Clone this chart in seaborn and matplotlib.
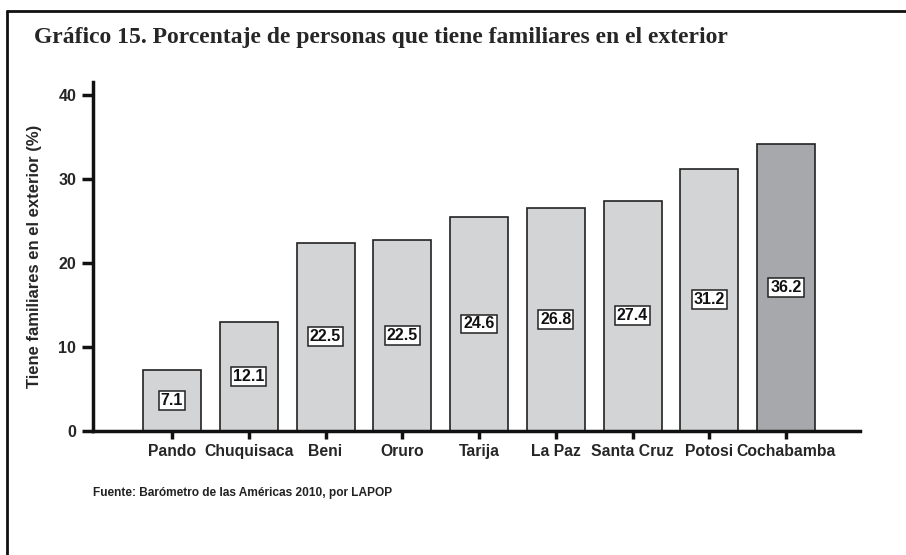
import pandas as pd
import seaborn as sns
import matplotlib.pyplot as plt
from matplotlib.lines import Line2D

# Data
departamentos = ["Pando", "Chuquisaca", "Beni", "Oruro", "Tarija",
                 "La Paz", "Santa Cruz", "Potosi", "Cochabamba"]
alturas = [7.2, 12.9, 22.4, 22.7, 25.4, 26.5, 27.4, 31.2, 34.1]
etiquetas = ["7.1", "12.1", "22.5", "22.5", "24.6", "26.8", "27.4", "31.2", "36.2"]
colores = ["#d3d4d6"] * 8 + ["#a7a8ac"]
y_ticks = [0, 10, 20, 30, 40]

df = pd.DataFrame({"depto": departamentos, "valor": alturas})

sns.set_style("white")
plt.rcParams["font.family"] = ["Liberation Sans", "DejaVu Sans"]

fig = plt.figure(figsize=(9.06, 5.55), dpi=100)
ax = fig.add_axes([0.1026, 0.2243, 0.8464, 0.628])

sns.barplot(data=df, x="depto", y="valor", hue="depto", palette=colores,
            legend=False, width=0.756, edgecolor="#222222", linewidth=1.2,
            saturation=1, ax=ax)

# value boxes inside the bars
for i, (h, lab) in enumerate(zip(alturas, etiquetas)):
    ax.text(i, h / 2, lab, ha="center", va="center", fontsize=11.5,
            fontweight="bold", color="#111111",
            bbox=dict(boxstyle="square,pad=0.12", fc="white", ec="#222222", lw=1.1))

ax.set_xlim(-1.03, 8.96)
ax.set_ylim(0, 41.55)
ax.set_yticks(y_ticks)
ax.set_yticklabels([str(t) for t in y_ticks], fontsize=11.5, fontweight="bold")
ax.set_xticks(range(len(departamentos)))
ax.set_xticklabels(departamentos, fontsize=11.3, fontweight="bold")
ax.tick_params(axis="y", left=True, length=8, width=2.5, color="#111111", pad=4)
ax.tick_params(axis="x", bottom=True, length=6, width=2.5, color="#111111", pad=4)
ax.set_xlabel("")
ax.set_ylabel("Tiene familiares en el exterior (%)", fontsize=12,
              fontweight="bold", labelpad=12)

for s in ["top", "right"]:
    ax.spines[s].set_visible(False)
for s in ["left", "bottom"]:
    ax.spines[s].set_linewidth(2.5)
    ax.spines[s].set_color("#111111")

# title and source
fig.text(34 / 906, 1 - 37 / 555, "Gráfico 15. Porcentaje de personas que tiene familiares en el exterior",
         fontsize=17, fontweight="bold", family="Liberation Serif", va="center", ha="left")
fig.text(93 / 906, 1 - 493 / 555, "Fuente: Barómetro de las Américas 2010, por LAPOP",
         fontsize=8.6, fontweight="bold", color="#222222", va="center", ha="left")

# outer frame (top and left)
fig.add_artist(Line2D([7 / 906, 1], [1 - 11 / 555] * 2, color="#111111", lw=2))
fig.add_artist(Line2D([7 / 906] * 2, [0, 1 - 11 / 555], color="#111111", lw=2))

fig.savefig("out.png", dpi=100)
